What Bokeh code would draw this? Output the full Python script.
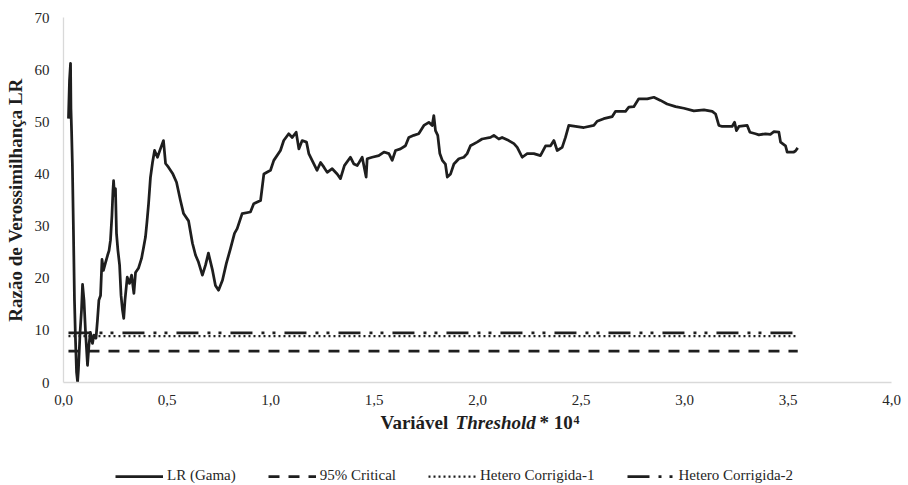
from bokeh.plotting import figure
from bokeh.layouts import column
from bokeh.models import Range1d, FixedTicker, Legend, LegendItem, Label
from bokeh.embed import file_html
from bokeh.resources import INLINE

# ---- data ----
lr_x = [0.024, 0.029, 0.034, 0.036, 0.039, 0.043, 0.048, 0.053, 0.058, 0.063,
        0.068, 0.072, 0.080, 0.087, 0.092, 0.099, 0.106, 0.116, 0.123, 0.130,
        0.140, 0.147, 0.157, 0.164, 0.171, 0.179, 0.186, 0.193, 0.203, 0.213,
        0.220, 0.227, 0.234, 0.239, 0.242, 0.246, 0.251, 0.256, 0.263, 0.271,
        0.278, 0.285, 0.291, 0.297, 0.308, 0.319, 0.329, 0.340, 0.348, 0.362,
        0.377, 0.386, 0.396, 0.403, 0.411, 0.420, 0.430, 0.440, 0.454, 0.469,
        0.483, 0.493, 0.507, 0.527, 0.546, 0.565, 0.580, 0.604, 0.623, 0.638,
        0.652, 0.671, 0.686, 0.700, 0.720, 0.734, 0.749, 0.768, 0.787, 0.807,
        0.826, 0.839, 0.863, 0.903, 0.919, 0.952, 0.968, 1.000, 1.016, 1.048,
        1.064, 1.088, 1.105, 1.124, 1.137, 1.153, 1.174, 1.185, 1.201, 1.225,
        1.242, 1.258, 1.274, 1.298, 1.322, 1.338, 1.357, 1.386, 1.403, 1.419,
        1.443, 1.462, 1.467, 1.491, 1.523, 1.548, 1.572, 1.588, 1.604, 1.628,
        1.652, 1.668, 1.692, 1.716, 1.741, 1.765, 1.781, 1.789, 1.797, 1.808,
        1.818, 1.830, 1.845, 1.854, 1.870, 1.886, 1.910, 1.934, 1.950, 1.966,
        1.998, 2.022, 2.063, 2.079, 2.103, 2.119, 2.151, 2.176, 2.192, 2.216,
        2.240, 2.272, 2.304, 2.329, 2.353, 2.369, 2.385, 2.409, 2.425, 2.441,
        2.514, 2.562, 2.578, 2.610, 2.651, 2.667, 2.715, 2.731, 2.755, 2.779,
        2.820, 2.852, 2.884, 2.916, 2.957, 2.997, 3.045, 3.094, 3.134, 3.150,
        3.166, 3.182, 3.230, 3.242, 3.251, 3.263, 3.303, 3.316, 3.343, 3.359,
        3.391, 3.415, 3.432, 3.456, 3.464, 3.488, 3.496, 3.528, 3.536, 3.547]
lr_y = [50.6, 57.9, 61.2, 52.5, 48.3, 41.6, 29.2, 15.8, 8.1, 2.0,
        0.1, 2.4, 9.6, 13.9, 18.8, 15.8, 10.0, 3.3, 7.2, 9.6,
        7.5, 9.1, 8.5, 11.9, 15.8, 16.7, 23.6, 21.5, 23.0, 24.4,
        25.3, 27.3, 32.0, 36.8, 38.7, 35.9, 37.2, 28.6, 25.3, 22.5,
        16.7, 13.9, 12.3, 15.8, 20.2, 19.0, 20.6, 17.1, 21.1, 21.9,
        23.8, 25.7, 27.9, 30.7, 34.3, 39.3, 42.2, 44.5, 43.2, 44.9,
        46.4, 42.0, 41.3, 40.1, 38.4, 34.9, 32.4, 31.0, 26.7, 24.4,
        23.1, 20.6, 22.5, 24.8, 21.5, 18.6, 17.7, 19.6, 22.9, 25.7,
        28.6, 29.5, 32.4, 32.7, 34.3, 34.9, 40.0, 40.7, 42.6, 44.5,
        46.4, 47.7, 47.0, 48.0, 44.8, 46.4, 46.1, 43.9, 42.6, 40.7,
        42.2, 41.3, 40.3, 41.0, 40.0, 39.1, 41.6, 43.2, 41.9, 41.6,
        43.2, 39.4, 42.9, 43.2, 43.5, 44.2, 43.9, 42.6, 44.5, 44.8,
        45.4, 47.0, 47.4, 47.7, 49.3, 49.9, 49.3, 51.2, 48.3, 47.4,
        43.9, 42.6, 41.9, 39.4, 40.0, 41.9, 42.9, 43.2, 43.9, 45.4,
        46.1, 46.7, 47.0, 47.4, 46.7, 47.0, 46.4, 45.8, 45.1, 43.2,
        43.9, 43.9, 43.5, 45.4, 45.4, 46.4, 44.5, 45.1, 47.0, 49.3,
        48.9, 49.3, 50.1, 50.6, 51.0, 52.0, 52.0, 52.8, 52.9, 54.4,
        54.4, 54.7, 54.1, 53.4, 52.9, 52.6, 52.1, 52.3, 52.0, 51.5,
        49.3, 49.1, 49.1, 49.9, 48.3, 49.1, 49.3, 48.0, 47.7, 47.5,
        47.7, 47.6, 48.1, 48.0, 46.1, 45.4, 44.2, 44.2, 44.4, 45.0]
critical_95 = 6.0
hetero_1 = 8.9
hetero_2 = 9.5

series_labels = ["LR (Gama)", "95% Critical", "Hetero Corrigida-1", "Hetero Corrigida-2"]
x_ticks = [0.0, 0.5, 1.0, 1.5, 2.0, 2.5, 3.0, 3.5, 4.0]
x_tick_labels = ["0,0", "0,5", "1,0", "1,5", "2,0", "2,5", "3,0", "3,5", "4,0"]
y_ticks = [0, 10, 20, 30, 40, 50, 60, 70]

FONT = "Liberation Serif"
INK = "#1e1e1e"
AXIS = "#d9d9d9"
W = 908

# ---------------- main chart ----------------
p = figure(width=W, height=413, output_backend="svg", toolbar_location=None,
           x_range=Range1d(0, 4), y_range=Range1d(0, 70),
           min_border_left=63, min_border_right=17, min_border_top=17, min_border_bottom=31)
p.outline_line_color = None
p.xgrid.visible = False
p.ygrid.visible = False

p.xaxis.ticker = FixedTicker(ticks=x_ticks)
p.xaxis.major_label_overrides = {t: l for t, l in zip(x_ticks, x_tick_labels)}
p.yaxis.ticker = FixedTicker(ticks=y_ticks)
for ax in (p.xaxis[0], p.yaxis[0]):
    ax.axis_line_color = AXIS
    ax.axis_line_width = 1.3
    ax.major_tick_line_color = None
    ax.minor_tick_line_color = None
    ax.major_tick_out = 0
    ax.major_tick_in = 0
    ax.major_label_text_font = FONT
    ax.major_label_text_font_size = "15px"
    ax.major_label_text_color = "#262626"
p.xaxis.major_label_standoff = 12
p.yaxis.major_label_standoff = 14
p.yaxis.axis_label = "Razão de Verossimilhança LR"
p.yaxis.axis_label_text_font = FONT
p.yaxis.axis_label_text_font_style = "bold"
p.yaxis.axis_label_text_font_size = "19px"
p.yaxis.axis_label_text_color = "#1e1e1e"
p.yaxis.axis_label_standoff = 6

x_ext = [lr_x[0], lr_x[-1]]
crit_style = dict(line_color=INK, line_width=2.75, line_dash="11 9")
h1_style = dict(line_color=INK, line_width=2.25, line_dash="2 3")
h2_style = dict(line_color=INK, line_width=2.75, line_dash="22 9 3 8 3 9")
lr_style = dict(line_color=INK, line_width=2.75)
p.line(x_ext, [critical_95, critical_95], **crit_style)
p.line(x_ext, [hetero_1, hetero_1], **h1_style)
p.line(x_ext, [hetero_2, hetero_2], **h2_style)
p.line(lr_x, lr_y, line_join="round", **lr_style)

# ---------------- strip below: axis title + legend ----------------
BH = 72
b = figure(width=W, height=BH, output_backend="svg", toolbar_location=None,
           x_range=p.x_range, y_range=Range1d(0, BH),
           x_axis_type=None, y_axis_type=None,
           min_border_left=63, min_border_right=17, min_border_top=0, min_border_bottom=0)
b.outline_line_color = None
b.xgrid.visible = False
b.ygrid.visible = False

# legend keys: hidden copies of the chart series (same data and styles)
g_lr = b.line(lr_x, lr_y, visible=False, **lr_style)
g_crit = b.line(x_ext, [critical_95, critical_95], visible=False, **crit_style)
g_h1 = b.line(x_ext, [hetero_1, hetero_1], visible=False, **h1_style)
g_h2 = b.line(x_ext, [hetero_2, hetero_2], visible=False, **h2_style)
legend = Legend(items=[LegendItem(label=series_labels[0], renderers=[g_lr]),
                       LegendItem(label=series_labels[1], renderers=[g_crit]),
                       LegendItem(label=series_labels[2], renderers=[g_h1]),
                       LegendItem(label=series_labels[3], renderers=[g_h2])],
                orientation="horizontal", location=(52, 1), spacing=32,
                label_standoff=4, glyph_width=48, glyph_height=16, label_height=16,
                label_text_font=FONT, label_text_font_size="15px", label_text_color="#262626",
                padding=0, margin=0, border_line_alpha=0, background_fill_alpha=0,
                inactive_fill_alpha=0, click_policy="none")
b.add_layout(legend, "center")

title_y = 63
common = dict(text_font=FONT, text_font_size="19px", text_color="#1e1e1e", text_baseline="alphabetic")
b.add_layout(Label(x=1.531, y=title_y, text="Variável", text_font_style="bold", **common))
b.add_layout(Label(x=1.894, y=title_y, text="Threshold", text_font_style="bold italic", **common))
b.add_layout(Label(x=2.300, y=title_y, text="* 10", text_font_style="bold", **common))
b.add_layout(Label(x=2.464, y=title_y + 2.5, text="4", text_font=FONT, text_font_size="12px",
                   text_font_style="bold", text_color="#1e1e1e", text_baseline="alphabetic"))

layout = column(p, b, spacing=0)
open("out.html", "w").write(file_html(layout, INLINE))
